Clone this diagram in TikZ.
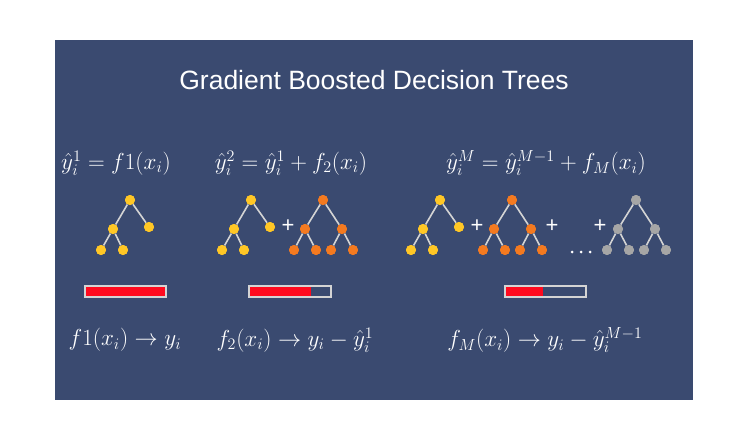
\documentclass[tikz,border=0pt]{standalone}
\usepackage{fontspec}
\setsansfont{Liberation Sans}
\definecolor{bg}{HTML}{3A4A70}
\definecolor{ty}{HTML}{FFC726}
\definecolor{to}{HTML}{F47A20}
\definecolor{tg}{HTML}{A6A6A6}
\definecolor{edge}{HTML}{D4D4D4}
\definecolor{barred}{HTML}{FF0A1E}
\tikzset{
  dot/.style={circle,fill=#1,inner sep=0pt,minimum size=10pt},
  tedge/.style={edge,line width=1.6pt},
  lbl/.style={text=white,font=\fontsize{17}{20}\selectfont,scale=1.34},
  plus/.style={text=white,font=\sffamily\fontsize{22}{22}\selectfont,inner sep=0pt},
  barbox/.style={draw=edge,line width=1.5pt,fill=bg},
  small tree/.pic={
    \node[dot=#1] (r) at (0,0) {};
    \node[dot=#1] (a) at (-17,29) {};
    \node[dot=#1] (b) at (19,27) {};
    \node[dot=#1] (a1) at (-29,50) {};
    \node[dot=#1] (a2) at (-7,50) {};
    \draw[tedge] (r)--(a) (r)--(b) (a)--(a1) (a)--(a2);
    \foreach \n in {r,a,b,a1,a2}{\node[dot=#1] at (\n) {};}
  },
  full tree/.pic={
    \node[dot=#1] (r) at (0,0) {};
    \node[dot=#1] (a) at (-18,29) {};
    \node[dot=#1] (b) at (19,29) {};
    \node[dot=#1] (a1) at (-29,50) {};
    \node[dot=#1] (a2) at (-7,50) {};
    \node[dot=#1] (b1) at (8,50) {};
    \node[dot=#1] (b2) at (30,50) {};
    \draw[tedge] (r)--(a) (r)--(b) (a)--(a1) (a)--(a2) (b)--(b1) (b)--(b2);
    \foreach \n in {r,a,b,a1,a2,b1,b2}{\node[dot=#1] at (\n) {};}
  }
}
\begin{document}
\begin{tikzpicture}[x=1pt,y=-1pt]
\useasboundingbox (0,0) rectangle (748,442);
\fill[white] (0,0) rectangle (748,442);
\fill[bg] (55,40) rectangle (693,400);
\node[text=white,font=\sffamily\fontsize{26.5}{30}\selectfont] (title) at (374,80) {Gradient Boosted Decision Trees};
% formulas
\node[lbl] (e1) at (116,163) {$\hat y_i^1 = f1(x_i)$};
\node[lbl] (e2) at (291,163) {$\hat y_i^2 = \hat y_i^1 + f_2(x_i)$};
\node[lbl] (e3) at (546,163) {$\hat y_i^M = \hat y_i^{M-1} + f_M(x_i)$};
\node[lbl] (g1) at (125,340) {$f1(x_i) \rightarrow y_i$};
\node[lbl] (g2) at (295,340) {$f_2(x_i) \rightarrow y_i - \hat y_i^1$};
\node[lbl] (g3) at (545,340) {$f_M(x_i) \rightarrow y_i - \hat y_i^{M-1}$};
% trees
\pic (t1) at (130,200) {small tree=ty};
\pic (t2) at (251,200) {small tree=ty};
\node[plus] (p1) at (288,226) {+};
\pic (t3) at (323,200) {full tree=to};
\pic (t4) at (440,200) {small tree=ty};
\node[plus] (p2) at (477,226) {+};
\pic (t5) at (512,200) {full tree=to};
\node[plus] (p3) at (552,226) {+};
\fill[white] (572,252) circle (1.5pt) (581,252) circle (1.5pt) (590,252) circle (1.5pt);
\node[plus] (p4) at (600,226) {+};
\pic (t6) at (636,200) {full tree=tg};
% bars
\draw[barbox] (85,286) rectangle (166,297);
\fill[barred] (86,287) rectangle (165,296);
\draw[barbox] (249,286) rectangle (331,297);
\fill[barred] (250,287) rectangle (311,296);
\draw[barbox] (505,286) rectangle (586,297);
\fill[barred] (506,287) rectangle (543,296);
\end{tikzpicture}
\end{document}
